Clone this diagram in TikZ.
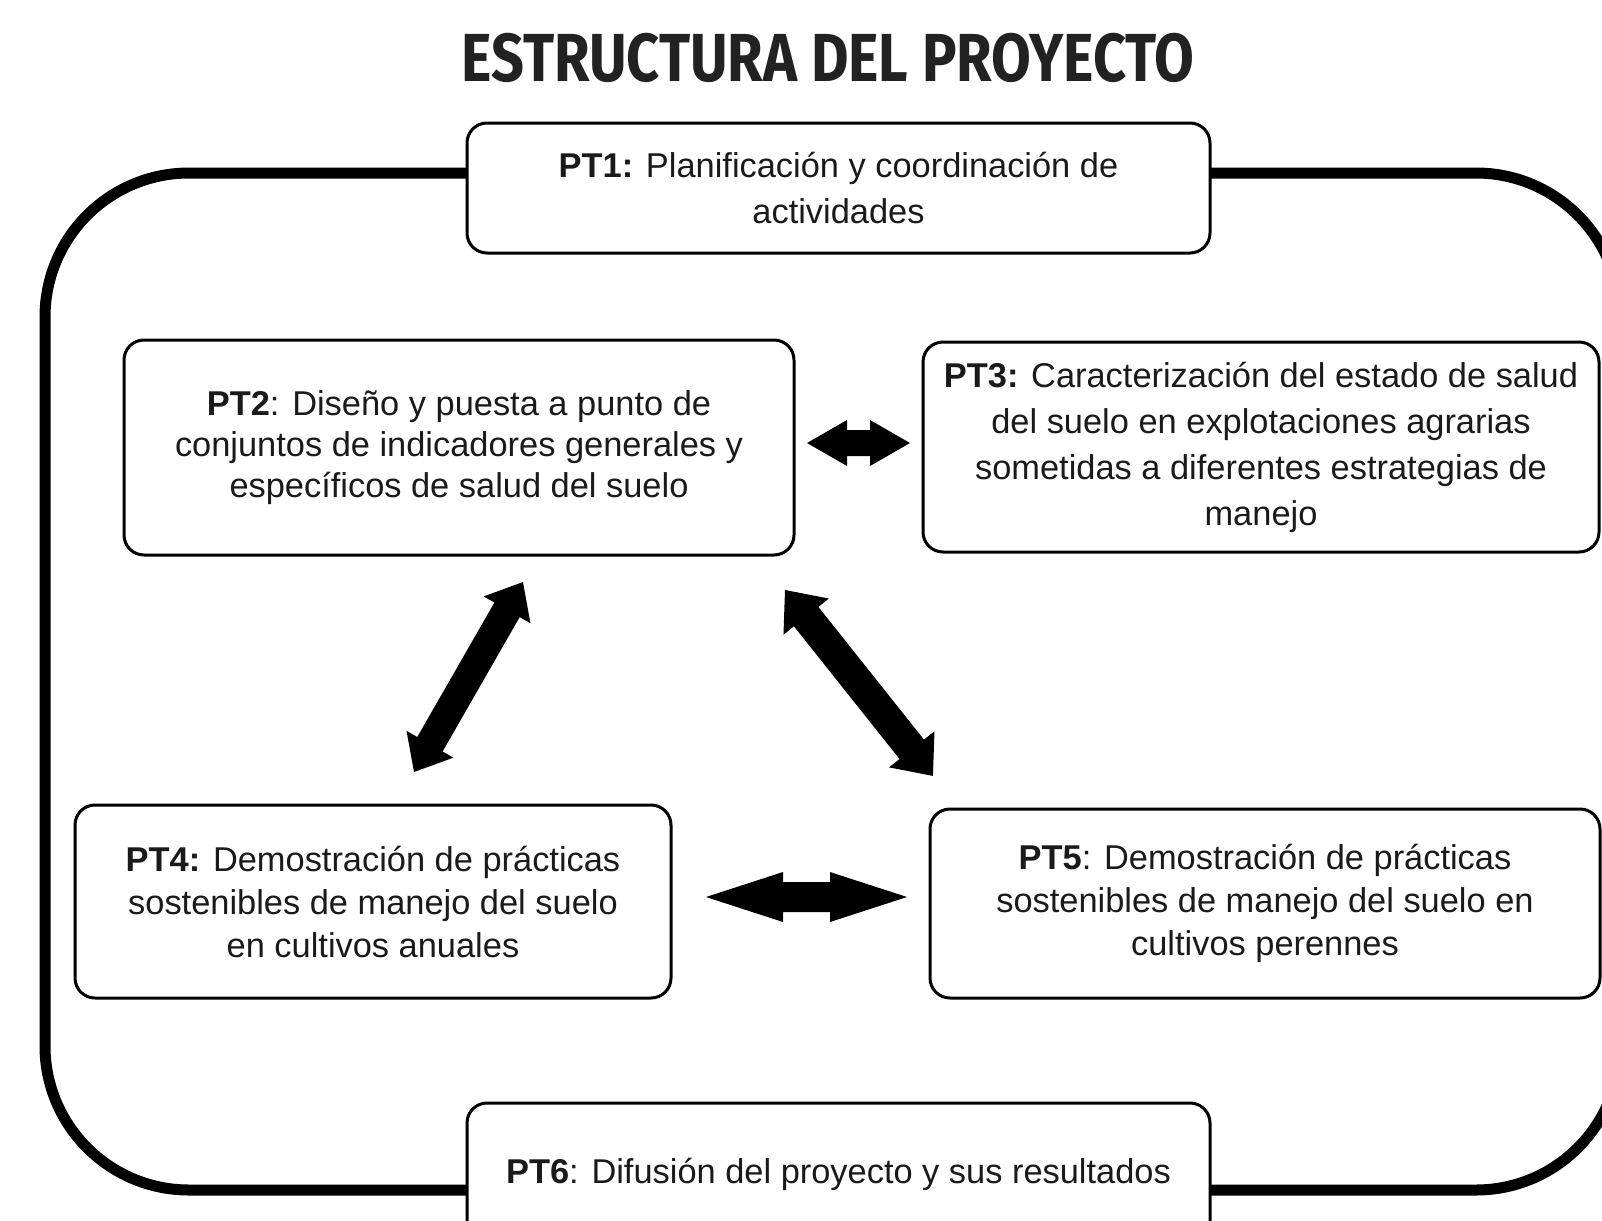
\documentclass[tikz,border=0pt]{standalone}
\usepackage{fontspec}
\setmainfont{Liberation Sans}
\newfontfamily\titlefont{Fira Sans}
\usetikzlibrary{calc}
\definecolor{ink}{HTML}{1A1A1A}
\definecolor{titleink}{HTML}{222222}
\tikzset{
  ptbox/.style={draw=black, line width=1.5pt, rounded corners=10pt, fill=white,
    align=center, inner sep=0pt, text=ink, font=\fontsize{17.2pt}{21pt}\selectfont},
  outerloop/.style={draw=black, line width=5.5pt, rounded corners=72pt},
  blockfill/.style={fill=black, draw=none}
}
% #1,#2 end coordinates; #3 shaft half width; #4 head half width; #5 head length
\newcommand\blockarrow[5]{%
  \path[blockfill] let \p1=($(#2)-(#1)$), \n1={veclen(\x1,\y1)}, \n2={atan2(\y1,\x1)} in
    {[shift={(#1)}, rotate=\n2]
    (0pt,0pt) -- (#5,#4) -- (#5,#3) -- ({\n1-#5},#3) -- ({\n1-#5},#4) -- (\n1,0pt)
    -- ({\n1-#5},-#4) -- ({\n1-#5},-#3) -- (#5,-#3) -- (#5,-#4) -- cycle};%
}
\begin{document}
\begin{tikzpicture}[x=0.5pt, y=-0.5pt]
\useasboundingbox (0,0) rectangle (1602,1221);
\clip (0,0) rectangle (1602,1221);
\fill[white] (0,0) rectangle (1602,1221);

\node[text=titleink] (title) at (828,58)
  {\resizebox{366.5pt}{\height}{\titlefont\bfseries\fontsize{34pt}{40pt}\selectfont ESTRUCTURA DEL PROYECTO}};

\draw[outerloop] (45,173) rectangle (1620,1190);

\node[ptbox, minimum width=371.5pt, minimum height=65pt, font=\fontsize{17.2pt}{23pt}\selectfont] (pt1) at (838.5,188)
  {\textbf{PT1:} Planificación y coordinación de\\actividades};
\node[ptbox, minimum width=335pt, minimum height=107.5pt, font=\fontsize{17.2pt}{20.5pt}\selectfont] (pt2) at (459,447.5)
  {\textbf{PT2}: Diseño y puesta a punto de\\conjuntos de indicadores generales y\\específicos de salud del suelo};
\node[ptbox, minimum width=338pt, minimum height=105pt, font=\fontsize{17.2pt}{23pt}\selectfont] (pt3) at (1261,447)
  {\textbf{PT3:} Caracterización del estado de salud\\del suelo en explotaciones agrarias\\sometidas a diferentes estrategias de\\manejo};
\node[ptbox, minimum width=298pt, minimum height=96.5pt, font=\fontsize{17.2pt}{21.5pt}\selectfont] (pt4) at (373,901.5)
  {\textbf{PT4:} Demostración de prácticas\\sostenibles de manejo del suelo\\en cultivos anuales};
\node[ptbox, minimum width=335pt, minimum height=94.5pt, font=\fontsize{17.2pt}{21.5pt}\selectfont] (pt5) at (1265,903.5)
  {\textbf{PT5}: Demostración de prácticas\\sostenibles de manejo del suelo en\\cultivos perennes};
\node[ptbox, minimum width=371.5pt, minimum height=70pt, text depth=0pt] (pt6) at (838.5,1173)
  {\raisebox{2.5pt}{\textbf{PT6}: Difusión del proyecto y sus resultados}};

% arrow end points
\coordinate (a23a) at (807,443);
\coordinate (a23b) at (910,443);
\coordinate (a45a) at (706,897);
\coordinate (a45b) at (907,897);
\coordinate (a24a) at (414,772);
\coordinate (a24b) at (523,582);
\coordinate (a25a) at (785,590);
\coordinate (a25b) at (933,776);

\blockarrow{a23a}{a23b}{6.5pt}{11.5pt}{20pt}
\blockarrow{a45a}{a45b}{7.5pt}{12.5pt}{38.5pt}
\blockarrow{a24a}{a24b}{7.3pt}{13.5pt}{16pt}
\blockarrow{a25a}{a25b}{7.8pt}{14.5pt}{17pt}
\end{tikzpicture}
\end{document}
